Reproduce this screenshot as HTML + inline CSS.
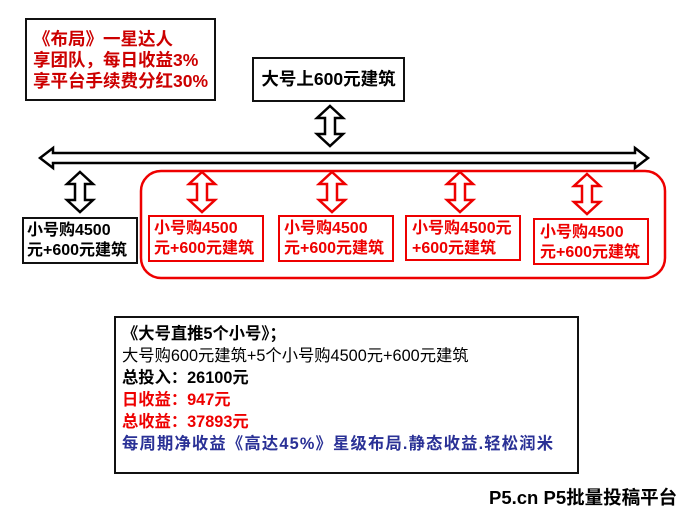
<!DOCTYPE html>
<html><head><meta charset="utf-8"><style>
body{margin:0;width:684px;height:514px;background:#fff;position:relative;overflow:hidden;font-family:"Liberation Sans","Noto Sans CJK SC",sans-serif;font-weight:bold}
.b{position:absolute;box-sizing:border-box}
</style></head><body>
<svg width="684" height="514" style="position:absolute;left:0;top:0">
<defs>
<polygon id="va" points="0,0 13,12 5,12 5,28 13,28 0,40 -13,28 -5,28 -5,12 -13,12"/>
</defs>
<rect x="141" y="171" width="524" height="107" rx="20" fill="none" stroke="#e00" stroke-width="2.5"/>
<polygon points="40,158 53,148 53,153 635,153 635,148 648,158 635,168 635,163 53,163 53,168" fill="#fff" stroke="#000" stroke-width="2.5"/>
<use href="#va" x="330" y="106" fill="#fff" stroke="#000" stroke-width="2.5"/>
<use href="#va" x="80" y="172" fill="#fff" stroke="#000" stroke-width="2.5"/>
<use href="#va" x="202" y="172" fill="#fff" stroke="#e00" stroke-width="2.5"/>
<use href="#va" x="332" y="172" fill="#fff" stroke="#e00" stroke-width="2.5"/>
<use href="#va" x="460" y="172" fill="#fff" stroke="#e00" stroke-width="2.5"/>
<use href="#va" x="587" y="174" fill="#fff" stroke="#e00" stroke-width="2.5"/>
</svg>
<div class="b" style="left:25px;top:18px;width:191px;height:83px;border:2.5px solid #111;color:#c00;font-size:17.5px;line-height:21px;padding:9px 0 0 6px;white-space:nowrap">《布局》一星达人<br>享团队，每日收益3%<br>享平台手续费分红30%</div>
<div class="b" style="left:252px;top:57px;width:153px;height:45px;border:2.5px solid #111;font-size:17.5px;line-height:40px;text-align:center">大号上600元建筑</div>
<div class="b" style="left:22px;top:217px;width:116px;height:47px;border:2.5px solid #111;font-size:16px;line-height:20px;padding:2px 0 0 3px;white-space:nowrap">小号购4500<br>元+600元建筑</div>
<div class="b" style="left:148px;top:215px;width:116px;height:47px;border:2.5px solid #e00;color:#e00;font-size:16px;line-height:20px;padding:2px 0 0 4px;white-space:nowrap">小号购4500<br>元+600元建筑</div>
<div class="b" style="left:278px;top:215px;width:116px;height:47px;border:2.5px solid #e00;color:#e00;font-size:16px;line-height:20px;padding:2px 0 0 4px;white-space:nowrap">小号购4500<br>元+600元建筑</div>
<div class="b" style="left:405px;top:215px;width:116px;height:46px;border:2.5px solid #e00;color:#e00;font-size:16px;line-height:20px;padding:2px 0 0 5px;white-space:nowrap">小号购4500元<br>+600元建筑</div>
<div class="b" style="left:533px;top:218px;width:116px;height:47px;border:2.5px solid #e00;color:#e00;font-size:16px;line-height:20px;padding:3px 0 0 5px;white-space:nowrap">小号购4500<br>元+600元建筑</div>
<div class="b" style="left:114px;top:316px;width:465px;height:158px;border:2.5px solid #111;font-size:16.3px;line-height:22px;padding:5px 0 0 6px;white-space:nowrap">
<div>《大号直推5个小号》；</div>
<div style="font-weight:normal">大号购600元建筑+5个小号购4500元+600元建筑</div>
<div>总投入：26100元</div>
<div style="color:#e00">日收益：947元</div>
<div style="color:#e00">总收益：37893元</div>
<div style="color:#2a3196;letter-spacing:1.2px">每周期净收益《高达45%》星级布局.静态收益.轻松润米</div>
</div>
<div class="b" style="left:489px;top:484px;font-size:18.5px;white-space:nowrap">P5.cn P5批量投稿平台</div>
</body></html>
